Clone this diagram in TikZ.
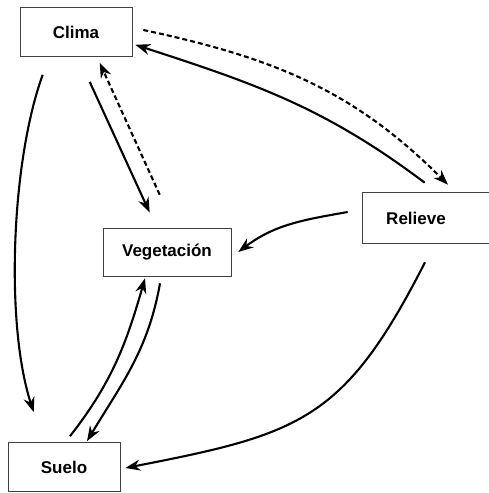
\documentclass[tikz,border=0pt]{standalone}
\usepackage{fontspec}
\setmainfont{Liberation Sans}
\usepackage{tikz}
\usetikzlibrary{arrows.meta}
\tikzset{
  boxnode/.style={draw=black!75, line width=0.6pt, rectangle, minimum width=112pt, minimum height=49pt, inner sep=0pt, font=\fontsize{17}{20}\selectfont\bfseries},
  link/.style={line width=2.1pt, -{Stealth[length=15pt,width=11pt]}},
  dashlink/.style={link, dash pattern=on 5pt off 3pt}
}

\begin{document}
\begin{tikzpicture}[x=1pt,y=1pt]
  \useasboundingbox (0,0) rectangle (489,493);
  % factores
  \node[boxnode] (clima) at (76,461) {Clima};
  \node[boxnode, draw=none, minimum width=126pt, minimum height=50pt] (relieve) at (426,275) {\hspace*{-20pt}Relieve};
  \draw[black!75, line width=0.6pt] (relieve.north east) -- (relieve.north west) -- (relieve.south west) -- (relieve.south east);
  \node[boxnode, minimum width=128pt, minimum height=48pt] (vegetacion) at (167,241) {Vegetación};
  \node[boxnode] (suelo) at (64,26) {Suelo};
  % relaciones
  \draw[link] ([shift={(23,-18)}]clima.south west) to[out=250,in=108,looseness=0.7] ([shift={(26,30)}]suelo.north west);
  \draw[link] ([shift={(70,-25)}]clima.south west) -- ([shift={(47,15)}]vegetacion.north west);
  \draw[dashlink] ([shift={(57,33)}]vegetacion.north west) -- ([shift={(80,-6)}]clima.south west);
  \draw[link] ([shift={(62,10)}]relieve.north west) to[out=143,in=-18] ([shift={(3,12)}]clima.south east);
  \draw[dashlink] ([shift={(11,2)}]clima.east) to[out=-12,in=135] ([shift={(22,8)}]relieve.north);
  \draw[link] ([shift={(-15,6)}]relieve.west) to[out=190,in=37] ([shift={(7,0)}]vegetacion.east);
  \draw[link] ([shift={(-7,-7)}]vegetacion.south) to[out=260,in=59] ([shift={(23,1)}]suelo.north);
  \draw[link] ([shift={(6,6)}]suelo.north) to[out=52,in=254] ([shift={(-22,-2)}]vegetacion.south);
  \draw[link] ([shift={(-1,-19)}]relieve.south) to[out=243,in=11,looseness=1.25] ([shift={(5,-1)}]suelo.east);
\end{tikzpicture}
\end{document}
